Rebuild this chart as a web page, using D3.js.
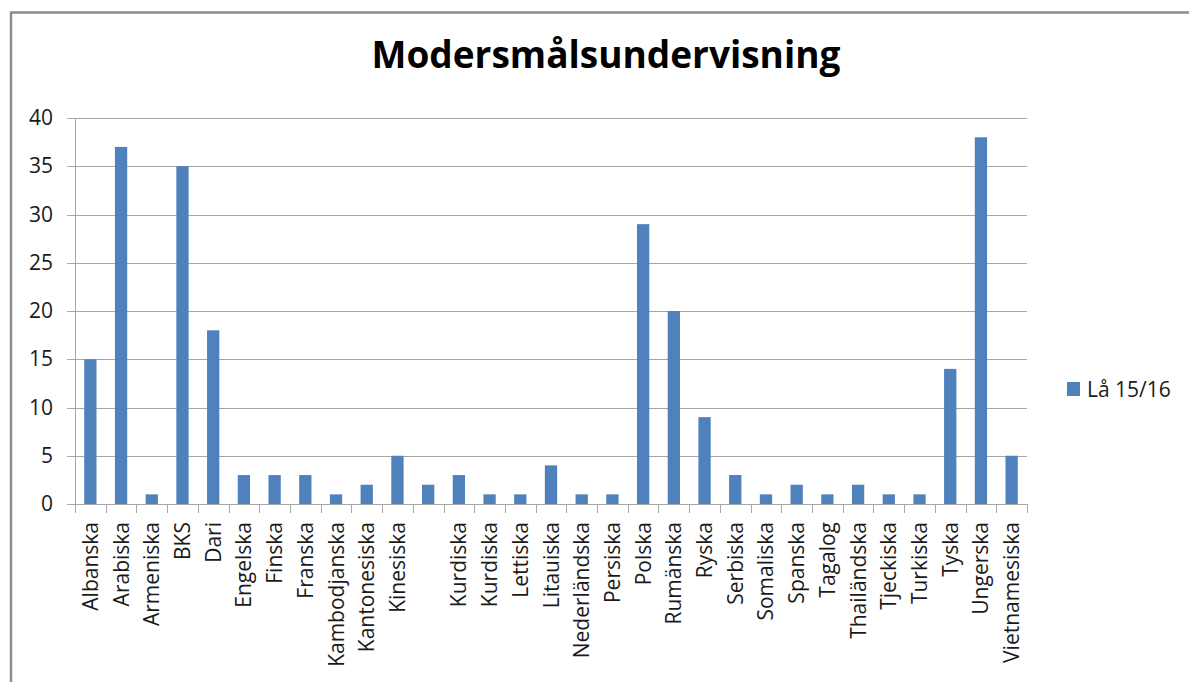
<!DOCTYPE html>
<html>
<head>
<meta charset="utf-8">
<script src="https://cdn.jsdelivr.net/npm/d3@7"></script>
<style>
  body { margin: 0; background: #fff; }
  svg { display: block; font-family: "Open Sans", Lato, sans-serif; }
</style>
</head>
<body>
<svg id="chart" width="1189" height="682"></svg>
<script>
// chart data
const languages = [
  'Albanska', 'Arabiska', 'Armeniska', 'BKS', 'Dari', 'Engelska', 'Finska',
  'Franska', 'Kambodjanska', 'Kantonesiska', 'Kinesiska', '', 'Kurdiska',
  'Kurdiska', 'Lettiska', 'Litauiska', 'Nederländska', 'Persiska', 'Polska',
  'Rumänska', 'Ryska', 'Serbiska', 'Somaliska', 'Spanska', 'Tagalog',
  'Thailändska', 'Tjeckiska', 'Turkiska', 'Tyska', 'Ungerska', 'Vietnamesiska'
]
const pupils = [
  15, 37, 1, 35, 18, 3, 3, 3, 1, 2, 5, 2, 3, 1, 1, 4, 1, 1, 29, 20, 9, 3, 1,
  2, 1, 2, 1, 1, 14, 38, 5
]
const yTicks = [0, 5, 10, 15, 20, 25, 30, 35, 40]
const seriesName = 'Lå 15/16'
const title = 'Modersmålsundervisning'

const barColor = '#4f81bd'
const gridColor = '#a6a6a6'
const textColor = '#1a1a1a'
const fontSize = 21
const margin = { left: 75, right: 162, top: 118, bottom: 178 }
const W = 1189
const H = 682

const svg = d3.select('#chart')

// outer frame (open on the right and bottom, as in the screenshot)
svg.append('rect')
  .attr('x', 11).attr('y', 12.5)
  .attr('width', W + 20).attr('height', H + 20)
  .attr('fill', 'none')
  .attr('stroke', '#8c8c8c')
  .attr('stroke-width', 2.5)

const width = W - margin.left - margin.right
const height = H - margin.top - margin.bottom

// index-based band so duplicate names stay separate
const x = d3.scaleBand()
  .domain(d3.range(languages.length))
  .range([0, width])
const y = d3.scaleLinear()
  .domain([0, 40])
  .range([height, 0])

const g = svg.append('g')
  .attr('transform', `translate(${margin.left}, ${margin.top})`)

// gridlines
g.append('g')
  .selectAll('line')
  .data(yTicks)
  .join('line')
    .attr('x1', -8)
    .attr('x2', width)
    .attr('y1', d => Math.round(y(d)) + 0.5)
    .attr('y2', d => Math.round(y(d)) + 0.5)
    .attr('stroke', gridColor)
    .attr('stroke-width', 1)

// y axis
const yAxis = d3.axisLeft(y)
  .tickValues(yTicks)
  .tickSize(0)
  .tickPadding(22)
g.append('g')
  .attr('class', 'y-axis')
  .call(yAxis)
  .call(s => s.select('.domain').remove())
  .selectAll('text')
    .attr('font-size', fontSize)
    .attr('font-family', '"Open Sans", sans-serif')
    .attr('fill', textColor)
g.append('line')
  .attr('x1', 0.5).attr('x2', 0.5)
  .attr('y1', 0).attr('y2', height)
  .attr('stroke', gridColor)

// bars
const barW = x.step() / 2.5
g.append('g')
  .selectAll('rect')
  .data(pupils)
  .join('rect')
    .attr('x', (d, i) => x(i) + (x.step() - barW) / 2)
    .attr('y', d => y(d))
    .attr('width', barW)
    .attr('height', d => height - y(d))
    .attr('fill', barColor)

// x axis with category ticks between bars
const xAxisG = g.append('g')
  .attr('transform', `translate(0, ${height})`)
xAxisG.append('line')
  .attr('x1', 0).attr('x2', width)
  .attr('y1', 0.5).attr('y2', 0.5)
  .attr('stroke', gridColor)
xAxisG.selectAll('.tick')
  .data(d3.range(languages.length + 1))
  .join('line')
    .attr('class', 'tick')
    .attr('x1', i => Math.round(i * x.step()) + 0.5)
    .attr('x2', i => Math.round(i * x.step()) + 0.5)
    .attr('y1', 0)
    .attr('y2', 9)
    .attr('stroke', gridColor)
xAxisG.selectAll('text')
  .data(languages)
  .join('text')
    .attr('transform', (d, i) => `translate(${x(i) + x.step() / 2 + 7.5}, 18) rotate(-90)`)
    .attr('text-anchor', 'end')
    .attr('font-size', fontSize)
    .attr('fill', textColor)
    .text(d => d)

// title
svg.append('text')
  .attr('x', 606)
  .attr('y', 68)
  .attr('text-anchor', 'middle')
  .attr('font-size', 37)
  .attr('font-weight', 'bold')
  .attr('fill', '#000')
  .text(title)

// legend
const legend = svg.append('g')
  .attr('transform', 'translate(1067, 382)')
legend.append('rect')
  .attr('width', 13).attr('height', 14)
  .attr('fill', barColor)
legend.append('text')
  .attr('x', 20)
  .attr('y', 14.5)
  .attr('font-size', fontSize)
  .attr('fill', textColor)
  .text(seriesName)
</script>
</body>
</html>
